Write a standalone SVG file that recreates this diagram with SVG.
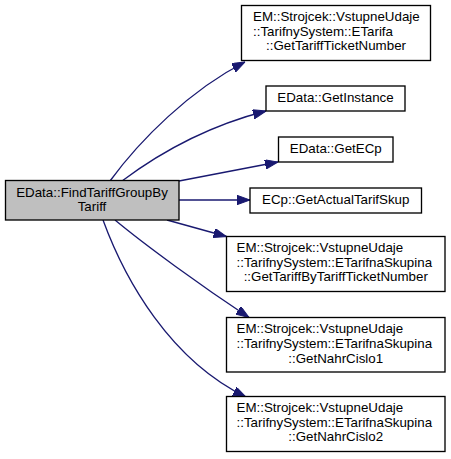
<svg xmlns="http://www.w3.org/2000/svg" width="451" height="459" viewBox="0 0 451 459">
<style>
text{font-family:"Liberation Sans",Arial,Helvetica,sans-serif;font-size:13.33px;fill:#000}
.box{fill:#fff;stroke:#000;stroke-width:1.33}
.src{fill:#bfbfbf;stroke:#000;stroke-width:1.33}
.e{fill:none;stroke:#191970;stroke-width:1.33;marker-end:url(#ah)}
.m{text-anchor:middle}
</style>
<defs>
<marker id="ah" viewBox="0 0 13 9.4" refX="13" refY="4.7" markerWidth="13" markerHeight="9.4" markerUnits="userSpaceOnUse" orient="auto">
<path d="M0,0 L13,4.7 L0,9.4 Z" fill="#191970" stroke="#191970" stroke-width="1"/>
</marker>
</defs>
<rect width="451" height="459" fill="#fff"/>
<g id="edges">
<path class="e" d="M110,181 C140,140 190,90 245,62"/>
<path class="e" d="M122,181 C150,160 200,128 266,111"/>
<path class="e" d="M179,181 L278,162"/>
<path class="e" d="M179,200 L250,200"/>
<path class="e" d="M167,220 L226.5,236.5"/>
<path class="e" d="M115,220 C145,245 200,285 249,317.5"/>
<path class="e" d="M103,220 C125,280 170,360 246,397"/>
</g>
<g id="n0">
<rect class="src" x="5.5" y="180.5" width="173.5" height="39.5"/>
<text class="m" x="92" y="196.5">EData::FindTariffGroupBy</text>
<text class="m" x="92" y="211">Tariff</text>
</g>
<g id="n1">
<rect class="box" x="241.5" y="5.5" width="189" height="55"/>
<text x="253" y="21">EM::Strojcek::VstupneUdaje</text>
<text x="253" y="35.5">::TarifnySystem::ETarifa</text>
<text class="m" x="336" y="50">::GetTariffTicketNumber</text>
</g>
<g id="n2">
<rect class="box" x="266" y="86" width="139" height="25"/>
<text class="m" x="335.5" y="102">EData::GetInstance</text>
</g>
<g id="n3">
<rect class="box" x="278.5" y="137" width="114.5" height="25"/>
<text class="m" x="335.75" y="153">EData::GetECp</text>
</g>
<g id="n4">
<rect class="box" x="250" y="188" width="171.5" height="25"/>
<text class="m" x="335.75" y="204">ECp::GetActualTarifSkup</text>
</g>
<g id="n5">
<rect class="box" x="226.5" y="236.5" width="218.5" height="55"/>
<text x="236.5" y="252">EM::Strojcek::VstupneUdaje</text>
<text x="236.5" y="266.5">::TarifnySystem::ETarifnaSkupina</text>
<text class="m" x="335.75" y="281">::GetTariffByTariffTicketNumber</text>
</g>
<g id="n6">
<rect class="box" x="226.5" y="317.5" width="218.5" height="54.5"/>
<text x="236.5" y="333">EM::Strojcek::VstupneUdaje</text>
<text x="236.5" y="347.5">::TarifnySystem::ETarifnaSkupina</text>
<text class="m" x="335.75" y="362.5">::GetNahrCislo1</text>
</g>
<g id="n7">
<rect class="box" x="226.5" y="396.5" width="218.5" height="55"/>
<text x="236.5" y="412">EM::Strojcek::VstupneUdaje</text>
<text x="236.5" y="426.5">::TarifnySystem::ETarifnaSkupina</text>
<text class="m" x="335.75" y="441">::GetNahrCislo2</text>
</g>
</svg>
